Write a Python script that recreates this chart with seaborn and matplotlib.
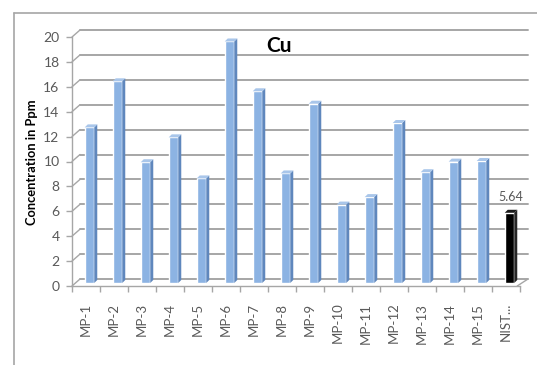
import matplotlib
matplotlib.use("Agg")
import matplotlib.pyplot as plt
import matplotlib.transforms as mtransforms
from matplotlib.patches import Polygon
from matplotlib.lines import Line2D
import seaborn as sns
import pandas as pd

# Copper concentration per sample
samples = ["MP-1", "MP-2", "MP-3", "MP-4", "MP-5", "MP-6", "MP-7", "MP-8",
           "MP-9", "MP-10", "MP-11", "MP-12", "MP-13", "MP-14", "MP-15", "NIST..."]
cu_ppm = [12.5, 16.2, 9.7, 11.7, 8.4, 19.4, 15.4, 8.8,
          14.4, 6.3, 6.9, 12.85, 8.9, 9.75, 9.8, 5.64]
y_ticks = list(range(0, 21, 2))
title = "Cu"
y_label = "Concentration in Ppm"

BLUE = "#8cb3e3"
BLUE_SIDE = "#5f87bd"
BLACK = "#000000"
GRID = "#a6a6a6"
TXT = "#595959"

sns.set_theme(style="white")
plt.rcParams["font.family"] = ["Lato", "DejaVu Sans"]

df = pd.DataFrame({"sample": samples, "ppm": cu_ppm})
colors = [BLUE] * (len(samples) - 1) + [BLACK]

W, H, DPI = 537, 365, 100
fig = plt.figure(figsize=(W / DPI, H / DPI), dpi=DPI)
fig.patch.set_facecolor("white")

# axes box in pixels: front floor/wall corner
ax_left, ax_right, ax_bottom, ax_top = 72, 520, 286, 37
ax = fig.add_axes([ax_left / W, 1 - ax_bottom / H,
                   (ax_right - ax_left) / W, (ax_bottom - ax_top) / H])
ax.set_facecolor("none")

sns.barplot(data=df, x="sample", y="ppm", hue="sample", palette=colors,
            legend=False, width=0.34, saturation=1, ax=ax, zorder=3)

ax.set_xlim(-0.5, len(samples) - 0.5)
ax.set_ylim(0, 20)

px_x = (ax_right - ax_left) / len(samples)
px_y = (ax_bottom - ax_top) / 20.0

# pseudo-3D depth of the back wall (pixels)
wall_dx, wall_dy = 8, 7
wdx, wdy = wall_dx / px_x, wall_dy / px_y

# back wall gridlines and their connectors to the front axis
x0, x1 = -0.5, len(samples) - 0.5
for v in y_ticks:
    ax.plot([x0 + wdx, x1 + wdx], [v + wdy, v + wdy], color=GRID, lw=1.4,
            clip_on=False, zorder=1)
    ax.plot([x0, x0 + wdx], [v, v + wdy], color=GRID, lw=1.0,
            clip_on=False, zorder=1)
# floor right edge
ax.plot([x1 - 0.1, x1 + wdx], [0, wdy], color=GRID, lw=1.0, clip_on=False, zorder=1)

# bars sit mid-depth: shift front faces and add side/top faces
bar_dx, bar_dy = 3.5, 3.0
depth = 3.0
bdx, bdy = depth / px_x, depth / px_y
shift = mtransforms.ScaledTranslation(bar_dx / DPI, bar_dy / DPI, fig.dpi_scale_trans)
for patch, col in zip(ax.patches[:len(samples)], colors):
    bx, bw, bh = patch.get_x(), patch.get_width(), patch.get_height()
    patch.set_transform(ax.transData + shift)
    patch.set_clip_on(False)
    side_col = BLUE_SIDE if col == BLUE else "#262626"
    top_col = "#a9c6ea" if col == BLUE else "#1a1a1a"
    side = Polygon([(bx + bw, 0), (bx + bw + bdx, bdy), (bx + bw + bdx, bh + bdy), (bx + bw, bh)],
                   closed=True, facecolor=side_col, edgecolor="none",
                   transform=ax.transData + shift, clip_on=False, zorder=3)
    top = Polygon([(bx, bh), (bx + bdx, bh + bdy), (bx + bw + bdx, bh + bdy), (bx + bw, bh)],
                  closed=True, facecolor=top_col, edgecolor="none",
                  transform=ax.transData + shift, clip_on=False, zorder=3)
    ax.add_patch(side)
    ax.add_patch(top)

# axis styling
for s in ["top", "right"]:
    ax.spines[s].set_visible(False)
for s in ["left", "bottom"]:
    ax.spines[s].set_color(GRID)
    ax.spines[s].set_linewidth(1.0)

ax.set_yticks(y_ticks)
ax.set_yticklabels([str(v) for v in y_ticks])
ax.tick_params(axis="y", left=True, length=4, width=1, color=GRID,
               labelsize=10, labelcolor=TXT, pad=5)

ax.set_xticks(range(len(samples)))
ax.set_xticklabels(samples, rotation=90)
ax.set_xticks([i + 0.5 for i in range(-1, len(samples))], minor=True)
ax.tick_params(axis="x", which="major", bottom=False, length=0,
               labelsize=9.5, labelcolor=TXT, pad=12)
ax.tick_params(axis="x", which="minor", bottom=True, length=4, width=1, color=GRID)
ax.set_xlabel("")
ax.set_ylabel("")

# value label on the reference bar
ax.annotate(f"{cu_ppm[-1]:.2f}", xy=(len(samples) - 1, cu_ppm[-1]),
            xytext=(5, 13), textcoords="offset pixels", ha="center", va="bottom",
            fontsize=9, color=TXT)

fig.text(32 / W, 1 - 162 / H, y_label, rotation=90, ha="center", va="center",
         fontsize=9.3, fontweight="bold", color="black")
fig.text(279 / W, 1 - 46 / H, title, ha="center", va="center",
         fontsize=15, fontweight="bold", color="black")

# chart frame
fig.add_artist(Line2D([14 / W, 14 / W], [0, 1 - 13 / H], transform=fig.transFigure,
                      color=GRID, lw=1.2))
fig.add_artist(Line2D([14 / W, 1], [1 - 13 / H, 1 - 13 / H], transform=fig.transFigure,
                      color=GRID, lw=1.2))

fig.savefig("out.png", dpi=DPI)
